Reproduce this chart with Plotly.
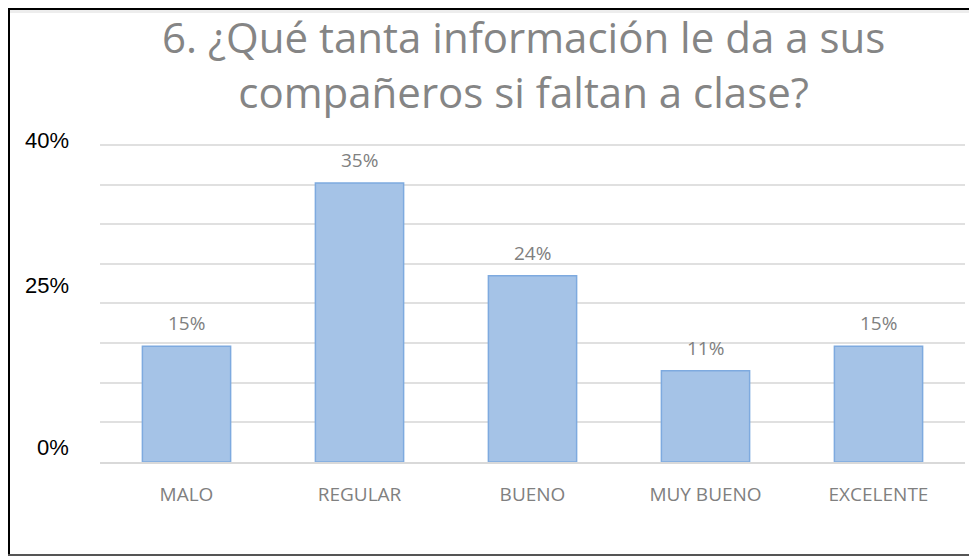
import plotly.graph_objects as go

categories = ["MALO", "REGULAR", "BUENO", "MUY BUENO", "EXCELENTE"]
values = [14.6, 35.2, 23.5, 11.5, 14.6]
value_labels = ["15%", "35%", "24%", "11%", "15%"]
y_tick_labels = ["40%", "25%", "0%"]
title_text = "6. ¿Qué tanta información le da a sus<br>compañeros si faltan a clase?"

# page has an 8px body margin; work in screen pixels and convert
OFF = 8
W, H = 977 - OFF, 557 - OFF
YMAX = 40.5
PL, PR, PB = 100, 965, 462          # plot area in screen pixels
PT = round(PB - YMAX * (317 / 40))   # keep 0..40 spanning 462..145


def px_x(x):
    return (x - PL) / (PR - PL)


def px_y(y):
    return (PB - y) / (PB - PT)


fig = go.Figure()
fig.add_trace(go.Bar(
    x=categories, y=values,
    marker=dict(color="#a5c3e7", line=dict(color="#7eaadf", width=1.5)),
    width=0.51, hoverinfo="skip",
))

for c, v, t in zip(categories, values, value_labels):
    fig.add_annotation(x=c, y=v, text=t, showarrow=False, yanchor="middle", yshift=23,
                       font=dict(family="Open Sans", size=19, color="#808080"))

y_label_px = [140, 285, 447]
for t, py in zip(y_tick_labels, y_label_px):
    fig.add_annotation(xref="paper", yref="paper", x=px_x(71), y=px_y(py),
                       text=t, showarrow=False, xanchor="right", yanchor="middle",
                       font=dict(family="Liberation Sans", size=22, color="#000000"))

fig.add_annotation(xref="paper", yref="paper", x=px_x(523), y=px_y(6), text=title_text,
                   showarrow=False, xanchor="center", yanchor="top",
                   font=dict(family="Open Sans", size=42, color="#858585"))

shapes = [
    dict(type="line", xref="paper", yref="paper", x0=px_x(OFF), x1=px_x(985), y0=px_y(11), y1=px_y(11),
         line=dict(color="#ededed", width=4)),
    dict(type="line", xref="paper", yref="paper", x0=px_x(OFF), x1=px_x(985), y0=px_y(OFF + 1), y1=px_y(OFF + 1),
         line=dict(color="#000000", width=2)),
    dict(type="line", xref="paper", yref="paper", x0=px_x(OFF + 1), x1=px_x(OFF + 1), y0=px_y(OFF), y1=px_y(555),
         line=dict(color="#000000", width=2)),
    dict(type="line", xref="paper", yref="paper", x0=px_x(OFF), x1=px_x(985), y0=px_y(555), y1=px_y(555),
         line=dict(color="#555555", width=2)),
]

fig.update_layout(
    width=W, height=H,
    margin=dict(l=PL - OFF, r=977 - PR, t=PT - OFF, b=557 - PB),
    paper_bgcolor="white", plot_bgcolor="white",
    showlegend=False, bargap=0.49,
    shapes=shapes,
    xaxis=dict(showgrid=False, showline=True, linecolor="#d9d9d9", linewidth=2,
               tickfont=dict(family="Open Sans", size=19, color="#808080"),
               ticks="", ticklabelstandoff=14, fixedrange=True),
    yaxis=dict(range=[0, YMAX], tickvals=[0, 5, 10, 15, 20, 25, 30, 35, 40], showticklabels=False,
               showgrid=True, gridcolor="#e0e0e0", gridwidth=2, zeroline=False, showline=False,
               fixedrange=True),
)

fig.write_html("out.html", config={"displayModeBar": False})
